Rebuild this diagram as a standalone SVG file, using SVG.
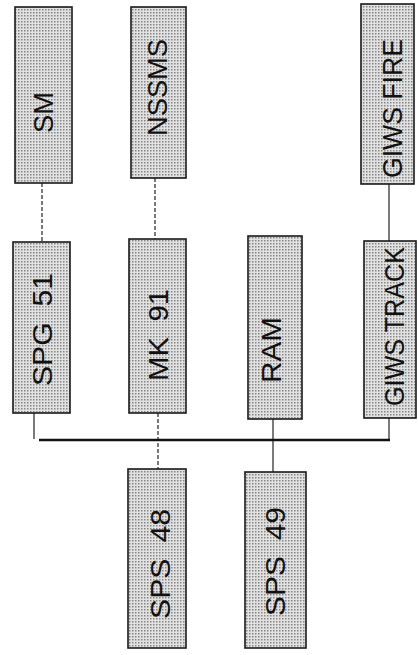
<svg xmlns="http://www.w3.org/2000/svg" width="418" height="655" viewBox="0 0 418 655">
<defs>
<pattern id="dots" width="3" height="3" patternUnits="userSpaceOnUse">
<rect width="3" height="3" fill="#e2e2e2"/>
<rect width="1.5" height="1.5" fill="#858585"/>
</pattern>
</defs>
<style>
.box{fill:url(#dots);stroke:#1a1a1a;stroke-width:1.6}
.lbl{font-family:"Liberation Sans",Arial,sans-serif;font-size:28px;fill:#111;text-anchor:middle}
.ws{word-spacing:7px}
.ln{stroke:#222;stroke-width:1.2;fill:none}
.dash{stroke-dasharray:4 2}
.bus{stroke:#111;stroke-width:2.4;fill:none}
</style>
<rect width="418" height="655" fill="#ffffff"/>
<g id="connectors">
<line class="ln dash" x1="42" y1="183" x2="42" y2="242"/>
<line class="ln dash" x1="155" y1="178" x2="155" y2="239"/>
<line class="ln" x1="389" y1="184" x2="389" y2="241"/>
<line class="ln" x1="34" y1="413" x2="34" y2="439"/>
<line class="ln dash" x1="158" y1="413" x2="158" y2="469"/>
<line class="ln" x1="273" y1="419" x2="273" y2="472"/>
<line class="ln" x1="389" y1="418" x2="389" y2="440"/>
<line class="bus" x1="39" y1="440" x2="390" y2="440"/>
</g>
<g id="SM">
<rect class="box" x="15" y="7" width="57" height="176"/>
<text class="lbl" transform="translate(43,112.5) rotate(-90)" y="10" textLength="41" lengthAdjust="spacingAndGlyphs">SM</text>
</g>
<g id="NSSMS">
<rect class="box" x="131" y="7" width="55" height="171"/>
<text class="lbl" transform="translate(157,87.5) rotate(-90)" y="10" textLength="97" lengthAdjust="spacingAndGlyphs">NSSMS</text>
</g>
<g id="GIWS_FIRE">
<rect class="box" x="361" y="4" width="53" height="180"/>
<text class="lbl" transform="translate(391.5,108.5) rotate(-90)" y="10" textLength="139" lengthAdjust="spacingAndGlyphs">GIWS FIRE</text>
</g>
<g id="SPG51">
<rect class="box" x="13" y="242" width="57" height="171"/>
<text class="lbl ws" transform="translate(42,329.5) rotate(-90)" y="10" textLength="113" lengthAdjust="spacingAndGlyphs">SPG 51</text>
</g>
<g id="MK91">
<rect class="box" x="129" y="239" width="57" height="174"/>
<text class="lbl ws" transform="translate(158,335) rotate(-90)" y="10" textLength="92" lengthAdjust="spacingAndGlyphs">MK 91</text>
</g>
<g id="RAM">
<rect class="box" x="248" y="236" width="54" height="183"/>
<text class="lbl" transform="translate(271,350) rotate(-90)" y="10" textLength="66" lengthAdjust="spacingAndGlyphs">RAM</text>
</g>
<g id="GIWS_TRACK">
<rect class="box" x="364" y="241" width="52" height="177"/>
<text class="lbl" transform="translate(393.5,326.5) rotate(-90)" y="10" textLength="159" lengthAdjust="spacingAndGlyphs">GIWS TRACK</text>
</g>
<g id="SPS48">
<rect class="box" x="128" y="469" width="58" height="179"/>
<text class="lbl ws" transform="translate(160,564) rotate(-90)" y="10" textLength="110" lengthAdjust="spacingAndGlyphs">SPS 48</text>
</g>
<g id="SPS49">
<rect class="box" x="245" y="472" width="61" height="176"/>
<text class="lbl ws" transform="translate(275,561.5) rotate(-90)" y="10" textLength="109" lengthAdjust="spacingAndGlyphs">SPS 49</text>
</g>
</svg>
